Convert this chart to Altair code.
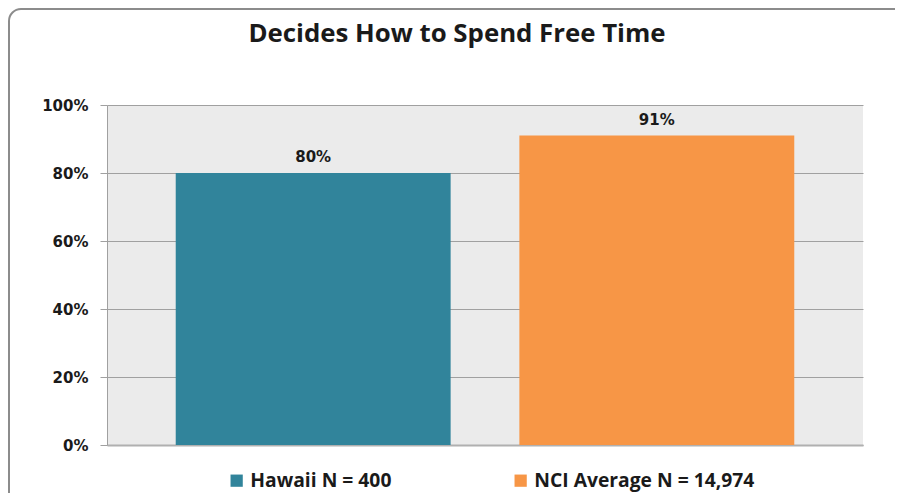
import altair as alt
import pandas as pd

categories = ["Hawaii N = 400", "NCI Average N = 14,974"]
values = [0.80, 0.91]
labels = ["80%", "91%"]
colors = ["#31849B", "#F79646"]
y_ticks = [0, 0.2, 0.4, 0.6, 0.8, 1.0]

df = pd.DataFrame({"group": categories, "value": values, "label": labels})

x_enc = alt.X("group:N", sort=categories,
              scale=alt.Scale(paddingInner=0.2, paddingOuter=0.2),
              axis=alt.Axis(labels=False, ticks=False, title=None, domain=True,
                            domainColor="#b0b0b0", domainWidth=2, grid=False))
y_enc = alt.Y("value:Q", scale=alt.Scale(domain=[0, 1], nice=False),
              axis=alt.Axis(values=y_ticks, format=".0%", title=None,
                            labelFont="DejaVu Sans", labelFontWeight="bold",
                            labelFontSize=15, labelColor="#1a1a1a", labelPadding=12,
                            tickColor="#a0a0a0", tickSize=7, domainColor="#a0a0a0",
                            gridColor="#a0a0a0", gridWidth=1))

bars = alt.Chart(df).mark_bar().encode(
    x=x_enc,
    y=y_enc,
    color=alt.Color("group:N", sort=categories,
                    scale=alt.Scale(domain=categories, range=colors),
                    legend=alt.Legend(title=None, orient="none", direction="horizontal",
                                      legendX=120, legendY=366,
                                      symbolType="square", symbolSize=150,
                                      symbolStrokeWidth=0, symbolOpacity=1,
                                      labelFont="Open Sans", labelFontWeight="bold",
                                      labelFontSize=19.3, labelColor="#1a1a1a",
                                      labelOffset=4,
                                      columnPadding=119, labelLimit=400)),
)

text = alt.Chart(df).mark_text(baseline="bottom", dy=-8, font="DejaVu Sans",
                               fontWeight="bold", fontSize=15, color="#1a1a1a").encode(
    x=alt.X("group:N", sort=categories),
    y="value:Q",
    text="label:N",
)

frame_df = pd.DataFrame({"k": [0]})
frame = alt.Chart(frame_df).mark_rect(fill="transparent", stroke="#8c8c8c", strokeWidth=2,
                                      cornerRadius=12).encode(
    x=alt.value(-98), x2=alt.value(800), y=alt.value(-96), y2=alt.value(410)
)

chart = alt.layer(frame, bars, text).properties(
    width=756, height=340,
    padding={"left": 99, "top": 97, "right": 32, "bottom": 48},
    autosize=alt.AutoSizeParams(type="none"),
    background="white",
    title=alt.TitleParams("Decides How to Spend Free Time", font="Open Sans",
                          fontWeight="bold", fontSize=25.8, color="#1a1a1a",
                          anchor="middle", offset=-40, dx=-28),
).configure_view(fill="#ebebeb", stroke=None)

chart.save("out.html", embed_options={"renderer": "svg", "actions": False})
